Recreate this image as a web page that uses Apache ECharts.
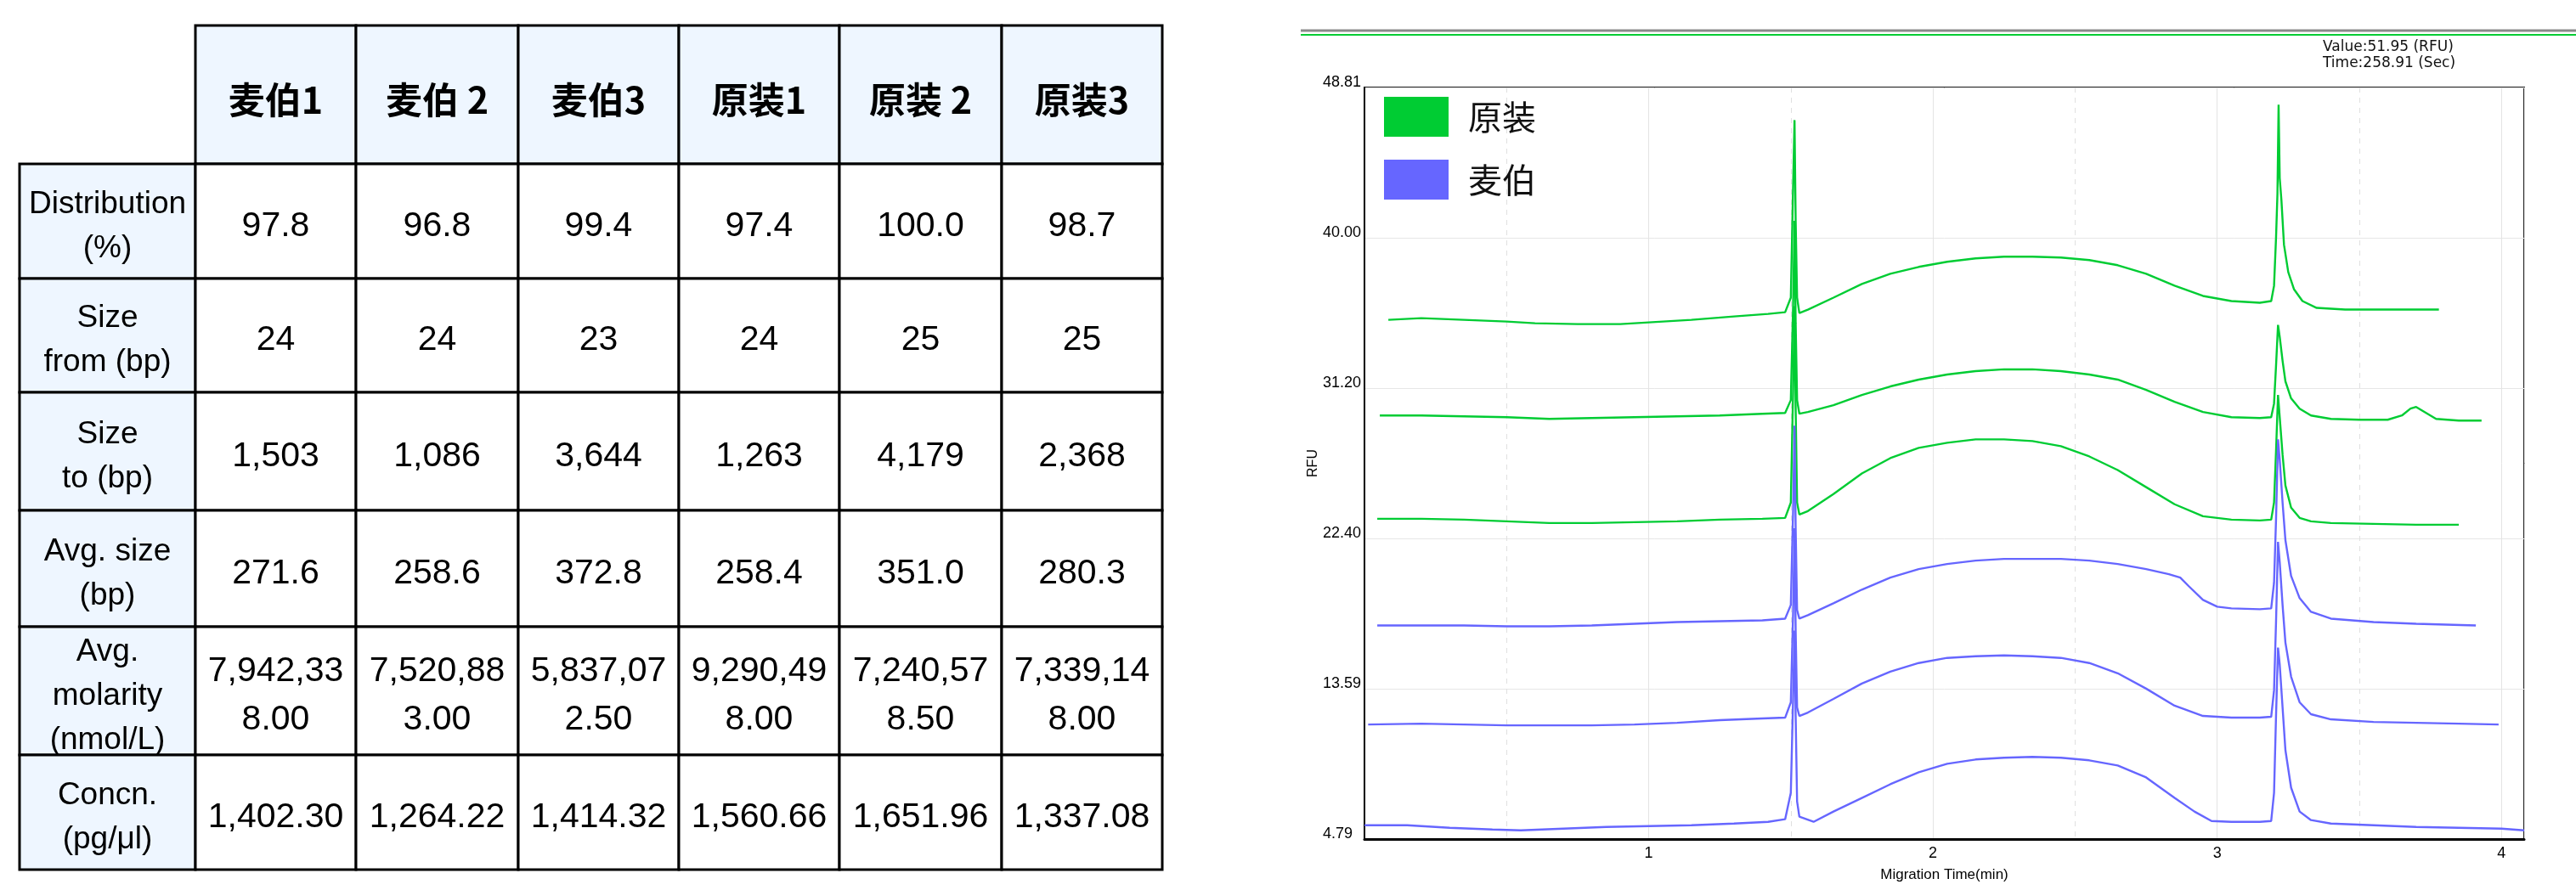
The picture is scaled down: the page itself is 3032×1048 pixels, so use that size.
<!DOCTYPE html>
<html><head><meta charset="utf-8">
<script src="https://cdn.jsdelivr.net/npm/echarts@6/dist/echarts.min.js"></script>
<style>html,body{margin:0;padding:0;background:#fff}#c{width:3032px;height:1048px}</style>
</head><body><div id="c"></div>
<script>
// ---------------- TABLE DATA ----------------
const colHeaders = ['麦伯1', '麦伯 2', '麦伯3', '原装1', '原装 2', '原装3'];
const rowLabels = ['Distribution\n(%)', 'Size\nfrom (bp)', 'Size\nto (bp)', 'Avg. size\n(bp)', 'Avg.\nmolarity\n(nmol/L)', 'Concn.\n(pg/μl)'];
const distribution = ['97.8', '96.8', '99.4', '97.4', '100.0', '98.7'];
const sizeFrom = ['24', '24', '23', '24', '25', '25'];
const sizeTo = ['1,503', '1,086', '3,644', '1,263', '4,179', '2,368'];
const avgSize = ['271.6', '258.6', '372.8', '258.4', '351.0', '280.3'];
const avgMolarity = ['7,942,338.00', '7,520,883.00', '5,837,072.50', '9,290,498.00', '7,240,578.50', '7,339,148.00'];
const concn = ['1,402.30', '1,264.22', '1,414.32', '1,560.66', '1,651.96', '1,337.08'];

// ---------------- ELECTROPHEROGRAM DATA (Migration time min, RFU) ----------------
const seriesNames = ['原装', '麦伯'];
const yTickLabels = ['4.79', '13.59', '22.40', '31.20', '40.00', '48.81'];
const xTickLabels = ['1', '2', '3', '4'];

const g1T = [0.084,0.2,0.35,0.5,0.6,0.75,0.9,1.0,1.15,1.3,1.42,1.48,1.5,1.508,1.513,1.517,1.522,1.53,1.56,1.65,1.75,1.85,1.95,2.05,2.15,2.25,2.35,2.45,2.55,2.65,2.75,2.85,2.95,3.05,3.15,3.19,3.2,3.207,3.212,3.216,3.22,3.226,3.235,3.25,3.27,3.3,3.35,3.45,3.6,3.78];
const g1V = [35.2,35.3,35.2,35.1,35.0,34.95,34.95,35.05,35.2,35.4,35.55,35.65,36.5,43,46.9,41,36.5,35.6,35.8,36.5,37.3,37.9,38.3,38.6,38.8,38.9,38.9,38.85,38.7,38.4,37.9,37.2,36.6,36.3,36.2,36.3,37.2,40,42.6,47.8,43.5,42.2,39.6,38.0,37.0,36.3,35.9,35.8,35.8,35.8];

const g2T = [0.054,0.2,0.35,0.5,0.65,0.8,0.95,1.1,1.25,1.4,1.48,1.5,1.508,1.513,1.517,1.522,1.53,1.56,1.65,1.75,1.85,1.95,2.05,2.15,2.25,2.35,2.45,2.55,2.65,2.75,2.85,2.95,3.05,3.15,3.19,3.2,3.207,3.214,3.22,3.23,3.24,3.26,3.29,3.33,3.4,3.5,3.6,3.65,3.68,3.7,3.73,3.77,3.85,3.93];
const g2V = [29.6,29.6,29.55,29.5,29.4,29.45,29.5,29.55,29.6,29.7,29.75,30.5,36,41,35,30.5,29.7,29.8,30.2,30.8,31.3,31.7,32.0,32.2,32.3,32.3,32.2,32.0,31.7,31.1,30.4,29.8,29.5,29.45,29.5,30.3,32.5,34.9,34.2,32.8,31.6,30.6,30.0,29.6,29.4,29.35,29.35,29.6,30.0,30.1,29.8,29.4,29.3,29.3];

const g3T = [0.045,0.2,0.35,0.5,0.65,0.8,0.95,1.1,1.25,1.4,1.48,1.5,1.508,1.513,1.517,1.522,1.53,1.56,1.65,1.75,1.85,1.95,2.05,2.15,2.25,2.35,2.45,2.55,2.65,2.75,2.85,2.95,3.05,3.15,3.19,3.2,3.207,3.214,3.22,3.23,3.24,3.26,3.29,3.33,3.4,3.55,3.7,3.85];
const g3V = [23.55,23.55,23.5,23.4,23.3,23.3,23.35,23.4,23.5,23.55,23.6,24.5,31,36,30,24.5,23.8,24.0,25.0,26.2,27.1,27.7,28.0,28.2,28.2,28.1,27.8,27.2,26.4,25.4,24.4,23.7,23.5,23.45,23.5,24.5,27.5,30.8,29.5,27.3,25.5,24.2,23.6,23.4,23.3,23.25,23.2,23.2];

const b1T = [0.045,0.2,0.35,0.5,0.65,0.8,0.95,1.1,1.25,1.4,1.48,1.5,1.508,1.513,1.517,1.522,1.53,1.56,1.65,1.75,1.85,1.95,2.05,2.15,2.25,2.35,2.45,2.55,2.65,2.75,2.83,2.87,2.9,2.95,3.0,3.05,3.15,3.19,3.2,3.207,3.214,3.22,3.23,3.24,3.26,3.29,3.33,3.4,3.55,3.7,3.91];
const b1V = [17.3,17.3,17.3,17.25,17.25,17.3,17.4,17.5,17.55,17.6,17.7,18.5,24,29,23,18.2,17.7,17.9,18.6,19.4,20.1,20.6,20.9,21.1,21.2,21.2,21.2,21.1,20.9,20.6,20.3,20.1,19.6,18.8,18.4,18.3,18.25,18.3,19.8,23.5,28.2,27.0,24.5,22.3,20.2,18.9,18.1,17.7,17.5,17.4,17.3];

const b2T = [0.013,0.2,0.35,0.5,0.65,0.8,0.95,1.1,1.25,1.4,1.48,1.5,1.508,1.513,1.517,1.522,1.53,1.56,1.65,1.75,1.85,1.95,2.05,2.15,2.25,2.35,2.45,2.55,2.65,2.75,2.85,2.95,3.05,3.15,3.19,3.2,3.207,3.214,3.22,3.23,3.24,3.26,3.29,3.33,3.4,3.55,3.7,3.85,3.99];
const b2V = [11.5,11.55,11.5,11.45,11.45,11.45,11.5,11.6,11.75,11.85,11.9,12.8,18,23,17,12.5,12.0,12.2,13.0,13.9,14.6,15.1,15.4,15.5,15.55,15.5,15.4,15.1,14.5,13.6,12.6,12.0,11.9,11.9,11.95,13.5,17.5,22.2,21.0,18.5,16.3,14.3,12.8,12.1,11.8,11.65,11.6,11.55,11.5];

const b3T = [0,0.15,0.3,0.45,0.55,0.7,0.85,1.0,1.15,1.3,1.42,1.48,1.5,1.508,1.513,1.517,1.522,1.53,1.58,1.65,1.75,1.85,1.95,2.05,2.15,2.25,2.35,2.45,2.55,2.65,2.75,2.85,2.92,2.98,3.05,3.15,3.19,3.2,3.207,3.214,3.22,3.23,3.24,3.26,3.29,3.33,3.4,3.55,3.7,3.85,4.0,4.08];
const b3V = [5.6,5.6,5.45,5.35,5.3,5.4,5.5,5.55,5.6,5.7,5.8,5.95,7.5,13,17,12,7,6.1,5.8,6.4,7.2,8.0,8.7,9.2,9.45,9.55,9.6,9.55,9.4,9.1,8.4,7.2,6.4,5.85,5.8,5.8,5.85,7.5,12,16,15,12.5,10.0,7.8,6.4,5.9,5.7,5.6,5.5,5.45,5.4,5.3];

// ---------------- LAYOUT / STYLE ----------------
const GREEN = '#00CC33', BLUE = '#6666FF';
const colW = [207, 189, 191, 189, 189, 191, 189];   // table column widths (layout)
const rowH = [163, 135, 134, 139, 137, 151, 135];   // table row heights (layout)
const cum = a => a.reduce((acc, w) => (acc.push(acc[acc.length - 1] + w), acc), [0]);
const colEdges = cum(colW), rowEdges = cum(rowH);

const bodyRows = [distribution, sizeFrom, sizeTo, avgSize, avgMolarity, concn];
const cells = [];
cells.push({col: 0, row: 0, kind: 'corner', text: ''});
colHeaders.forEach((h, i) => cells.push({col: i + 1, row: 0, kind: 'header', text: h}));
rowLabels.forEach((l, r) => {
  cells.push({col: 0, row: r + 1, kind: 'label', text: l});
  bodyRows[r].forEach((v, i) => cells.push({col: i + 1, row: r + 1, kind: 'value', text: v}));
});
function wrapValue(s) { return s.length > 8 ? s.slice(0, 8) + '\n' + s.slice(8) : s; }

function renderCell(params, api) {
  const c = cells[params.dataIndex];
  if (c.kind === 'corner') return {type: 'group', children: []};
  const col = api.value(0), row = api.value(1);
  const p0 = api.coord([colEdges[col], rowEdges[row]]);
  const p1 = api.coord([colEdges[col + 1], rowEdges[row + 1]]);
  const x = p0[0], y = Math.min(p0[1], p1[1]);
  const w = p1[0] - p0[0], h = Math.abs(p1[1] - p0[1]);
  let font, lh, text = c.text;
  if (c.kind === 'header') { font = 'bold 43px "Noto Sans CJK SC"'; lh = 56; }
  else if (c.kind === 'label') { font = '37px "Liberation Sans", Arial'; lh = 52; }
  else { font = '41px "Liberation Sans", Arial'; lh = 57; text = wrapValue(text); }
  return {
    type: 'group',
    children: [
      {type: 'rect', shape: {x: x, y: y, width: w, height: h},
       style: {fill: c.kind === 'value' ? '#ffffff' : '#EEF6FF', stroke: '#000', lineWidth: 3}},
      {type: 'text', style: {text: text, x: x + w / 2, y: y + h / 2 + 6, align: 'center', verticalAlign: 'middle',
        font: font, lineHeight: lh, fill: '#000'}, z2: 10}
    ]
  };
}

function pairs(T, V) { return T.map((t, i) => [t, V[i]]); }
function traceSeries(name, color, T, V) {
  return {
    name: name, type: 'line', xAxisIndex: 0, yAxisIndex: 0, data: pairs(T, V),
    showSymbol: false, symbol: 'none', color: color,
    lineStyle: {color: color, width: 2.4}, animation: false, clip: true
  };
}

const chart = echarts.init(document.getElementById('c'), null, {renderer: 'canvas'});
chart.setOption({
  animation: false,
  backgroundColor: '#fff',
  grid: [
    {left: 1606, right: 61, top: 103, bottom: 60, show: true, borderColor: '#222', borderWidth: 2, backgroundColor: 'transparent'},
    {left: 23, top: 30, width: colEdges[colEdges.length - 1], height: rowEdges[rowEdges.length - 1], show: false}
  ],
  xAxis: [
    {type: 'value', gridIndex: 0, min: 0, max: 4.08, interval: 1,
     name: 'Migration Time(min)', nameLocation: 'middle', nameGap: 34,
     nameTextStyle: {fontSize: 17, color: '#000', fontFamily: '"Liberation Sans", Arial'},
     axisLine: {show: true, lineStyle: {color: '#000', width: 3}},
     axisTick: {show: false},
     axisLabel: {color: '#000', fontSize: 18, margin: 8, fontFamily: '"Liberation Sans", Arial',
       showMaxLabel: false, showMinLabel: false,
       formatter: v => { const i = xTickLabels.indexOf(String(Math.round(v))); return (Math.abs(v - Math.round(v)) < 1e-6 && i >= 0) ? xTickLabels[i] : ''; }},
     splitLine: {show: true, lineStyle: {color: '#e4e4e4', width: 1}},
     minorTick: {show: false, splitNumber: 2},
     minorSplitLine: {show: true, lineStyle: {color: '#e0e0e0', width: 1, type: [6, 6]}}
    },
    {type: 'value', gridIndex: 1, min: 0, max: colEdges[colEdges.length - 1], show: false}
  ],
  yAxis: [
    {type: 'value', gridIndex: 0, min: 4.79, max: 48.81, interval: 8.804,
     name: 'RFU', nameLocation: 'middle', nameGap: 52, nameRotate: 90,
     nameTextStyle: {fontSize: 16, color: '#000', fontFamily: '"Liberation Sans", Arial'},
     axisLine: {show: true, lineStyle: {color: '#000', width: 2}},
     axisTick: {show: false},
     axisLabel: {color: '#000', fontSize: 18, margin: 49, align: 'left', verticalAlign: 'bottom',
       fontFamily: '"Liberation Sans", Arial', padding: [0, 0, -3, 0],
       formatter: v => { const i = Math.round((v - 4.79) / 8.804); return yTickLabels[i] || ''; }},
     splitLine: {show: true, lineStyle: {color: '#e6e6e6', width: 1}}
    },
    {type: 'value', gridIndex: 1, min: 0, max: rowEdges[rowEdges.length - 1], inverse: true, show: false}
  ],
  legend: {
    left: 1629, top: 114, orient: 'vertical', padding: 0, itemWidth: 76, itemHeight: 47, itemGap: 27,
    icon: 'rect', data: seriesNames, selectedMode: false,
    textStyle: {fontSize: 40, color: '#111', fontFamily: '"Noto Sans CJK SC"', padding: [0, 0, 0, 18]}
  },
  graphic: [
    {type: 'line', shape: {x1: 1531, y1: 36, x2: 3032, y2: 36}, style: {stroke: '#8a8a8a', lineWidth: 3}},
    {type: 'line', shape: {x1: 1531, y1: 41, x2: 3032, y2: 41}, style: {stroke: GREEN, lineWidth: 2}},
    {type: 'text', left: 2734, top: 46, style: {text: 'Value:51.95 (RFU)\nTime:258.91 (Sec)', font: '17px "DejaVu Sans"', fill: '#111', lineHeight: 19}}
  ],
  series: [
    traceSeries(seriesNames[0], GREEN, g1T, g1V),
    traceSeries(seriesNames[0], GREEN, g2T, g2V),
    traceSeries(seriesNames[0], GREEN, g3T, g3V),
    traceSeries(seriesNames[1], BLUE, b1T, b1V),
    traceSeries(seriesNames[1], BLUE, b2T, b2V),
    traceSeries(seriesNames[1], BLUE, b3T, b3V),
    {type: 'custom', xAxisIndex: 1, yAxisIndex: 1, renderItem: renderCell, animation: false,
     data: cells.map(c => [c.col, c.row]), encode: {x: 0, y: 1}, clip: false, silent: true}
  ]
});
</script></body></html>
